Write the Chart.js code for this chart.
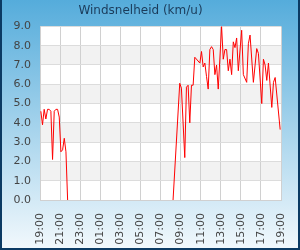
<!DOCTYPE html>
<html>
<head>
<meta charset="utf-8">
<script src="https://cdn.jsdelivr.net/npm/chart.js@4/dist/chart.umd.min.js"></script>
<style>
  html, body { margin: 0; padding: 0; background: #fff; }
  #wrap {
    position: relative; width: 300px; height: 250px; box-sizing: border-box;
    background: linear-gradient(to bottom, #55acdb 0%, #f1f8fc 100%);
    border-left: 2px solid #0b3a63; border-right: 2px solid #0b3a63; border-bottom: 2px solid #0b3a63;
    overflow: hidden;
  }
  #c { position: absolute; left: -2px; top: 0; }
</style>
</head>
<body>
<div id="wrap"><canvas id="c" width="300" height="250"></canvas></div>
<script>
const chartTitle = 'Windsnelheid (km/u)';
const tickLabels = ['19:00','21:00','23:00','01:00','03:00','05:00','07:00','09:00','11:00','13:00','15:00','17:00','19:00'];
const times = [
  '19:05','19:15','19:25','19:35','19:45','19:55','20:05','20:15','20:25','20:35','20:45','20:55',
  '21:05','21:15','21:25','21:35','21:45','02:00',
  '08:15','08:55','09:05','09:25','09:35','09:45','09:55','10:05','10:15','10:25','10:55','11:05',
  '11:15','11:25','11:35','11:45','11:55','12:05','12:15','12:25','12:35','12:45','13:05','13:15',
  '13:25','13:35','13:45','13:55','14:05','14:15','14:25','14:35','14:45','15:05','15:15','15:35',
  '15:45','15:55','16:15','16:35','16:45','17:05','17:15','17:25','17:35','17:45','18:05','18:15',
  '18:25','18:55'
];
const speeds = [
  4.6,3.9,4.7,4.2,4.7,4.7,4.6,2.1,4.6,4.7,4.7,4.3,
  2.5,2.6,3.2,2.5,0,null,
  0,6.05,5.8,2.2,5.85,5.95,4.0,5.95,5.95,7.4,7.1,7.7,
  6.9,7.1,6.4,5.75,7.8,7.95,7.8,6.5,7.0,5.75,9.0,7.3,
  7.8,7.8,6.7,7.3,6.5,8.2,7.9,8.4,6.7,8.8,6.5,6.1,
  8.1,8.55,6.1,7.85,7.6,5.0,7.3,7.0,6.2,7.1,4.8,6.1,
  6.35,3.65
];

function toMin(t) {
  const [h, m] = t.split(':').map(Number);
  return ((h * 60 + m) - 19 * 60 + 1440) % 1440;
}
const points = times.map((t, i) => ({ x: toMin(t), y: speeds[i] }));

const bands = {
  id: 'bands',
  beforeDraw(chart) {
    const { ctx, chartArea: a, scales: { y } } = chart;
    ctx.save();
    ctx.fillStyle = '#ffffff';
    ctx.fillRect(a.left, a.top, a.right - a.left, a.bottom - a.top);
    ctx.fillStyle = '#f2f2f2';
    for (let v = 1; v < 9; v += 2) {
      const y1 = y.getPixelForValue(v + 1), y0 = y.getPixelForValue(v);
      ctx.fillRect(a.left, y1, a.right - a.left, y0 - y1);
    }
    ctx.restore();
  }
};

Chart.defaults.font.family = '"DejaVu Sans", sans-serif';

new Chart(document.getElementById('c'), {
  type: 'line',
  data: {
    datasets: [{
      data: points,
      borderColor: '#ff0000',
      borderWidth: 1,
      pointRadius: 0,
      tension: 0,
      spanGaps: false,
      fill: false
    }]
  },
  options: {
    responsive: false,
    animation: false,
    devicePixelRatio: 1,
    layout: { padding: { left: 0, right: 19, top: 0, bottom: 0 } },
    plugins: {
      legend: { display: false },
      tooltip: { enabled: false },
      title: {
        display: true, text: chartTitle, color: '#1b3b5a',
        font: { size: 12, weight: 'normal' }, padding: { top: 4, bottom: 8 }
      }
    },
    scales: {
      x: {
        type: 'linear', min: 0, max: 1440,
        afterFit: (s) => { s.height = 50; s.paddingRight = 0; s.paddingLeft = 0; },
        grid: { color: '#d0d0d0', drawTicks: false },
        border: { color: '#d0d0d0' },
        ticks: {
          stepSize: 120, autoSkip: false, maxRotation: 90, minRotation: 90,
          color: '#444', font: { size: 11 }, padding: 13,
          callback: (v) => tickLabels[Math.round(v / 120)]
        }
      },
      y: {
        min: 0, max: 9,
        afterFit: (s) => { s.width = 40; s.paddingTop = 0; s.paddingBottom = 0; },
        grid: { color: '#dcdcdc', drawTicks: false },
        border: { color: '#d0d0d0' },
        ticks: {
          stepSize: 1, color: '#444', font: { size: 11 }, padding: 9,
          callback: (v) => v.toFixed(1)
        }
      }
    }
  },
  plugins: [bands]
});
</script>
</body>
</html>
